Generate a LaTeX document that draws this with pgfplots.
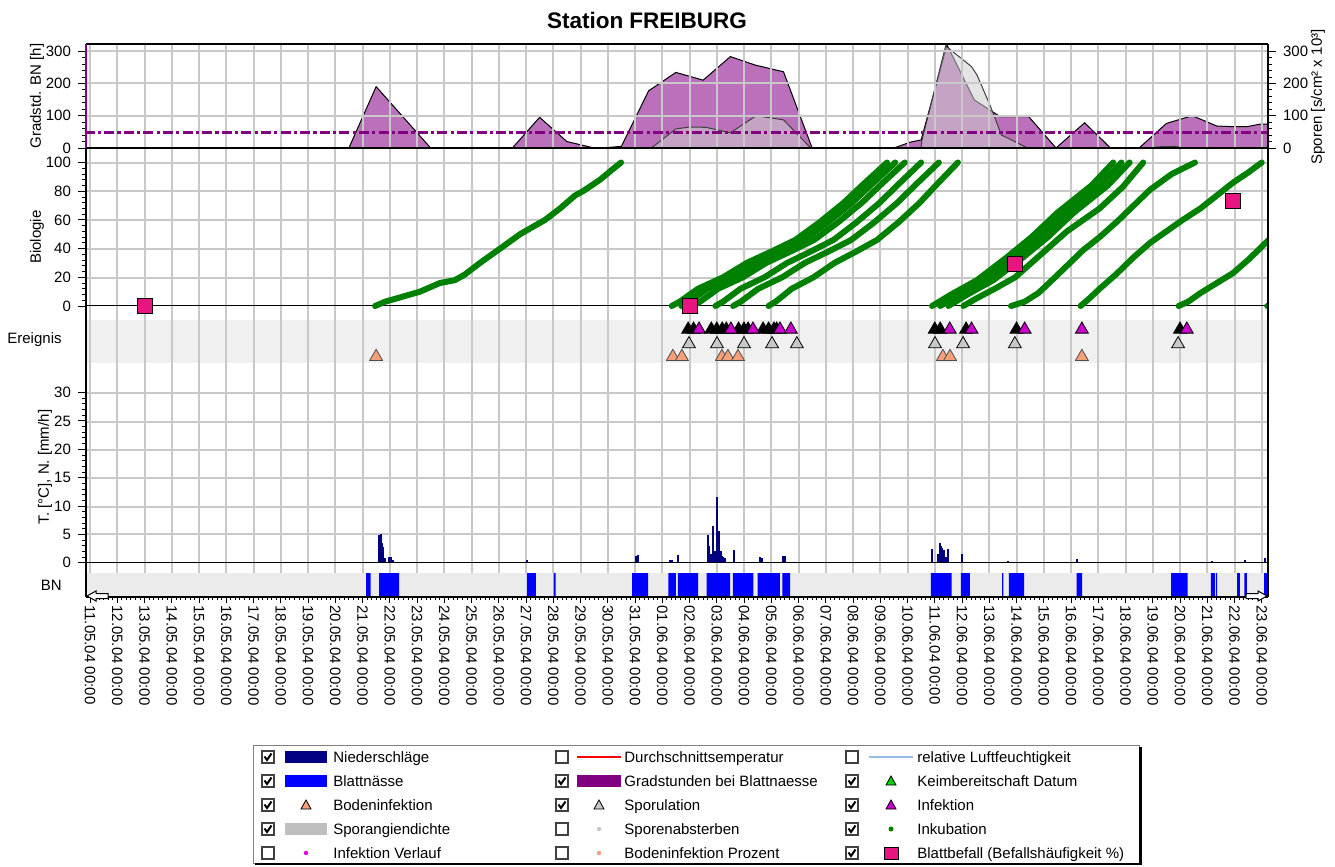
\documentclass[border=0pt]{standalone}
\usepackage{fontspec}
\setmainfont{Liberation Sans}
\usepackage{pgfplots}
\pgfplotsset{compat=1.18}

\definecolor{gridc}{RGB}{200,200,200}
\definecolor{purpfill}{RGB}{186,112,186}
\definecolor{purpline}{RGB}{128,0,128}
\definecolor{sporgrey}{RGB}{205,205,205}
\definecolor{inkgreen}{RGB}{0,128,0}
\definecolor{befall}{RGB}{232,20,128}
\definecolor{infmag}{RGB}{204,0,204}
\definecolor{infdot}{RGB}{230,0,230}
\definecolor{sporul}{RGB}{200,200,200}
\definecolor{boden}{RGB}{245,160,122}
\definecolor{navyN}{RGB}{0,0,128}
\definecolor{bnblue}{RGB}{0,0,255}
\definecolor{bandgrey}{RGB}{235,235,235}
\definecolor{ereiggrey}{RGB}{240,240,240}
\definecolor{lfblue}{RGB}{150,190,230}
\definecolor{keimgreen}{RGB}{0,210,0}
\newcommand\tf{\fontsize{7.5}{9}\selectfont}

\pgfplotsset{
 panel/.style={
  scale only axis, width=591pt,
  xmin=-0.1468, xmax=43.229,
  xtick={0,...,43},
  axis line style={draw=none},
  tick align=outside,
  xtick pos=left, ytick pos=left,
  tick style={black, line width=0.4pt},
  major tick length=4pt, minor tick length=2pt,
  tick label style={font=\tf},
  /pgf/number format/assume math mode=true,
 },
 nox/.style={xticklabels={}, major x tick style={draw=none}, minor x tick num=0},
 gl/.style={inkgreen, no markers, line width=3pt, line join=round, line cap=round},
 ev/.style={only marks, mark=triangle*, mark size=3.7pt, line width=0.4pt},
}

\newcommand\cb[3]{%
 \draw[black!75, line width=0.6pt, fill=white] (#1-6,#2-6) rectangle (#1+6,#2+6);
 \ifnum#3=1 \draw[black, line width=1pt] (#1-3.5,#2-0.5) -- (#1-1,#2+3) -- (#1+3.5,#2-3.5);\fi
}
\newcommand\tri[3]{%
 \draw[fill=#3, draw=black, line width=0.4pt] (#1-5,#2+4) -- (#1+5,#2+4) -- (#1,#2-5) -- cycle;
}
\newcommand\lt[3]{\node[anchor=base west, font=\tf, inner sep=0pt] at (#1,#2+5) {#3};}

\begin{document}
\begin{tikzpicture}
\useasboundingbox (0,0) rectangle (667.5pt,-433.5pt);

% Ereignis background band
\begin{scope}[x=0.5pt, y=-0.5pt]
 \fill[ereiggrey] (86,320) rectangle (1268,363);
\end{scope}

% ---------------- top panel: Gradstunden / Sporangiendichte (areas)
\begin{axis}[panel, nox, at={(43pt,-22pt)}, anchor=north west, height=52pt,
  ymin=0, ymax=322, ytick={0,100,200,300}, minor y tick num=4]
\addplot[fill=purpfill, draw=black, line width=0.5pt] coordinates {
(9.5,0)(10.5,190)(11.5,95)(12.5,0)(15.5,0)(16.5,95)(17.5,20)(18.5,0)(18.75,0)(19.5,5)
(20.5,177)(21.5,234)(22.5,210)(23.5,283)(24.4,257)(25.45,236)(26.5,0)(29.5,0)(30.1,18)
(30.5,25)(31.45,319)(32.45,149)(33.4,97)(34.45,97)(35.45,0)(36.5,78)(37.45,0)(38.5,0)
(39.5,76)(40.45,100)(41.35,68)(41.95,66)(42.45,66)(42.95,74)(43.3,74)} \closedcycle;
\addplot[fill=sporgrey, fill opacity=0.55, draw=black!75, line width=0.5pt] coordinates {
(20.6,0)(21.5,59)(22.0,65)(22.6,64)(23.5,47)(24.45,100)(25.45,87)(26.45,0)(30.5,0)
(30.52,20)(31.4,316)(32.35,252)(32.55,226)(33.05,128)(33.45,40)(34.4,0)(38.8,0)
(39.3,4)(39.8,5)(40.25,0)} \closedcycle;
\end{axis}

% grid lines (pixel-aligned)
\begin{scope}[x=0.5pt, y=-0.5pt]
 \foreach \k in {0,...,43} {
   \pgfmathsetmacro\xx{round(90+27.25*\k)}
   \draw[gridc, line width=1pt] (\xx,44) -- (\xx,597);
 }
 \foreach \yy in {51,83,116, 163,191,220,249,278, 393,422,450,478,507,534} {
   \draw[gridc, line width=1pt] (86,\yy) -- (1268,\yy);
 }
\end{scope}

% top panel overlay: threshold line and right axis
\begin{axis}[scale only axis, width=591pt, height=52pt, at={(43pt,-22pt)}, anchor=north west,
  xmin=-0.1468, xmax=43.229, ymin=0, ymax=322, hide x axis, axis y line*=right,
  axis line style={draw=none}, ytick={0,100,200,300}, minor y tick num=4,
  tick align=outside, tick style={black, line width=0.4pt}, major tick length=4pt,
  minor tick length=2pt, yticklabel style={font=\tf},
  /pgf/number format/assume math mode=true]
\addplot[purpline, line width=1.4pt, dash pattern=on 5pt off 1.6pt on 1.6pt off 1.6pt]
  coordinates {(-0.2,48)(43.3,48)};
\end{axis}

% ---------------- Biologie
\begin{axis}[panel, nox, at={(43pt,-74pt)}, anchor=north west, height=86pt,
  ymin=-9.76, ymax=110.1, ytick={0,20,...,100}, minor y tick num=4]
\addplot[black, line width=0.5pt] coordinates {(-0.2,0)(43.3,0)};
% line 1
\addplot[gl] coordinates {(10.46,0)(10.83,3)(11.38,6)(12.11,10)(12.84,16)(13.39,18)(13.76,22)(14.31,30)(15.05,40)(15.78,50)(16.33,56)(16.7,60)(17.25,68)(17.8,77)(18.09,80)(18.72,88)(19.16,95)(19.49,100)};
% band A
\addplot[gl] coordinates {(21.35,0)(21.64,3)(22.31,12)(23.23,20)(24.1,30)(25.01,38)(25.88,46)(26.75,58)(27.66,72)(28.33,84)(29.25,100)};
\addplot[gl] coordinates {(21.7,0)(21.99,3)(22.66,12)(23.57,20)(24.43,30)(25.33,38)(26.2,46)(27.06,58)(27.97,72)(28.64,84)(29.55,100)};
\addplot[gl] coordinates {(22.1,0)(22.39,3)(23.05,12)(23.96,20)(24.81,30)(25.71,38)(26.57,46)(27.43,58)(28.33,72)(28.99,84)(29.9,100)};
% band B
\addplot[gl] coordinates {(22.95,0)(23.23,3)(23.87,12)(24.75,20)(25.58,30)(26.45,38)(27.28,46)(28.11,58)(28.98,72)(29.62,84)(30.5,100)};
\addplot[gl] coordinates {(23.6,0)(23.88,3)(24.52,12)(25.4,20)(26.23,30)(27.1,38)(27.93,46)(28.76,58)(29.63,72)(30.27,84)(31.15,100)};
% line C
\addplot[gl] coordinates {(24.9,0)(25.16,3)(25.75,12)(26.55,20)(27.32,30)(28.12,38)(28.88,46)(29.65,58)(30.45,72)(31.04,84)(31.85,100)};
% band D
\addplot[gl] coordinates {(30.9,0)(31.6,8)(32.55,18)(33.65,34)(34.55,48)(35.5,65)(36.75,84)(37.55,100)};
\addplot[gl] coordinates {(31.2,0)(31.9,8)(32.85,18)(33.95,34)(34.85,48)(35.8,65)(37.05,84)(37.85,100)};
\addplot[gl] coordinates {(31.5,0)(32.2,8)(33.15,18)(34.25,34)(35.15,48)(36.1,65)(37.35,84)(38.15,100)};
% E F G H
\addplot[gl] coordinates {(32.05,0)(32.5,5)(33.2,12)(33.95,20)(34.9,36)(35.85,52)(37.05,68)(37.9,83)(38.65,100)};
\addplot[gl] coordinates {(33.8,0)(34.3,3)(34.8,9)(35.25,17)(35.85,28)(36.45,39)(37.05,48)(37.7,59)(38.3,70)(38.9,81)(39.7,92)(40.55,100)};
\addplot[gl] coordinates {(36.35,0)(36.6,4)(37.05,12)(37.65,22)(38.3,34)(38.9,44)(39.5,52)(40.1,60)(40.75,68)(41.35,77)(41.95,86)(42.5,93)(43.0,100)};
\addplot[gl] coordinates {(39.95,0)(40.3,3)(40.75,9)(41.35,16)(41.95,23)(42.55,33)(43.25,46)};
\addplot[gl] coordinates {(43.2,0)(43.3,0.5)};
\addplot[only marks, mark=square*, mark size=3.75pt, line width=0.5pt, mark options={fill=befall, draw=black}]
  coordinates {(2.02,0)(22.0,0)(33.94,29)(41.94,73)};
\end{axis}

% ---------------- Ereignis
\begin{axis}[panel, nox, at={(43pt,-160pt)}, anchor=north west, height=21.5pt,
  ymin=0, ymax=43, ytick=\empty]
\addplot[ev, mark options={fill=black, draw=black}] coordinates {(21.95,33.6)(22.15,33.6)(22.8,33.6)(23.0,33.6)(23.2,33.6)(23.35,33.6)(23.8,33.6)(24.0,33.6)(24.15,33.6)(24.7,33.6)(24.9,33.6)(25.1,33.6)(25.2,33.6)(31.0,33.6)(31.2,33.6)(32.15,33.6)(34.0,33.6)(40.0,33.6)};
\addplot[ev, mark options={fill=infmag, draw=black}] coordinates {(22.35,33.6)(23.52,33.6)(24.33,33.6)(25.32,33.6)(25.72,33.6)(31.55,33.6)(32.35,33.6)(34.3,33.6)(36.4,33.6)(40.25,33.6)(43.23,33.6)};
\addplot[ev, mark options={fill=sporul, draw=black}] coordinates {(21.98,19)(23.01,19)(24.0,19)(25.03,19)(25.94,19)(31.01,19)(32.04,19)(33.94,19)(39.93,19)};
\addplot[ev, mark options={fill=boden, draw=black!70}] coordinates {(10.5,6.3)(21.39,6.3)(21.72,6.3)(23.19,6.3)(23.41,6.3)(23.78,6.3)(31.3,6.3)(31.56,6.3)(36.4,6.3)};
\end{axis}

% ---------------- T / N
\begin{axis}[panel, nox, at={(43pt,-181.5pt)}, anchor=north west, height=102pt,
  ymin=-0.76, ymax=35.2, ytick={0,5,...,30}, minor y tick num=4]
\addplot[ycomb, navyN, line width=1.1pt] coordinates {
(10.61,4.8)(10.68,5.0)(10.72,3.5)(10.75,2.8)(10.83,0.8)(10.97,1.0)(11.05,1.0)(11.12,0.5)
(16.04,0.4)(20.04,1.2)(20.11,1.3)(21.28,0.5)(21.36,0.4)(21.57,1.3)(22.67,4.8)(22.72,3.0)
(22.79,1.5)(22.86,6.5)(22.9,1.8)(22.94,2.0)(22.98,1.6)(23.02,11.5)(23.08,5.6)(23.14,2.0)
(23.19,1.2)(23.23,1.0)(23.3,0.8)(23.64,2.2)(24.59,1.0)(24.64,0.8)(25.43,1.2)(25.5,1.2)
(30.89,2.5)(31.12,1.5)(31.19,3.5)(31.23,3.0)(31.27,2.6)(31.34,2.2)(31.41,1.0)(31.5,2.5)
(31.99,1.5)(33.69,0.3)(36.21,0.6)(39.88,0.2)(41.16,0.3)(42.39,0.5)(43.12,0.8)};
\addplot[black, line width=0.75pt] coordinates {(-0.2,0)(43.3,0)};
\end{axis}

% ---------------- BN
\begin{axis}[panel, at={(43pt,-283.5pt)}, anchor=north west, height=15pt,
  ymin=0, ymax=1, ytick=\empty, minor x tick num=5,
  major tick length=3pt, minor tick length=1.5pt,
  x tick label style={rotate=-90, anchor=west, inner sep=1pt},
  xticklabels={11.05.04 00:00,12.05.04 00:00,13.05.04 00:00,14.05.04 00:00,15.05.04 00:00,
  16.05.04 00:00,17.05.04 00:00,18.05.04 00:00,19.05.04 00:00,20.05.04 00:00,21.05.04 00:00,
  22.05.04 00:00,23.05.04 00:00,24.05.04 00:00,25.05.04 00:00,26.05.04 00:00,27.05.04 00:00,
  28.05.04 00:00,29.05.04 00:00,30.05.04 00:00,31.05.04 00:00,01.06.04 00:00,02.06.04 00:00,
  03.06.04 00:00,04.06.04 00:00,05.06.04 00:00,06.06.04 00:00,07.06.04 00:00,08.06.04 00:00,
  09.06.04 00:00,10.06.04 00:00,11.06.04 00:00,12.06.04 00:00,13.06.04 00:00,14.06.04 00:00,
  15.06.04 00:00,16.06.04 00:00,17.06.04 00:00,18.06.04 00:00,19.06.04 00:00,20.06.04 00:00,
  21.06.04 00:00,22.06.04 00:00,23.06.04 00:00}]
\addplot[fill=bandgrey, draw=none] coordinates {(-0.2,0.8)(43.3,0.8)} \closedcycle;
\addplot[const plot, fill=bnblue, draw=none] coordinates {
(10.13,0.8)(10.30,0)(10.61,0.8)(11.34,0)(16.03,0.8)(16.36,0)(17.01,0.8)(17.09,0)
(19.89,0.8)(20.48,0)(21.22,0.8)(21.50,0)(21.57,0.8)(22.32,0)(22.63,0.8)(23.49,0)
(23.59,0.8)(24.34,0)(24.50,0.8)(25.32,0)(25.41,0.8)(25.69,0)(30.86,0.8)(31.62,0)
(31.96,0.8)(32.29,0)(33.47,0.8)(33.52,0)(33.72,0.8)(34.28,0)(36.21,0.8)(36.41,0)
(39.67,0.8)(40.28,0)(41.13,0.8)(41.28,0)(41.32,0.8)(41.36,0)(42.10,0.8)(42.20,0)
(42.36,0.8)(42.45,0)(43.09,0.8)(43.3,0)} \closedcycle;
\end{axis}

% ---------------- frame, labels, legend (pixel coordinates)
\begin{scope}[x=0.5pt, y=-0.5pt]
 \draw[purpline, line width=1pt] (86,44) -- (86,148);
 \draw[black, line width=1pt] (86,148) -- (86,597);
 \draw[black, line width=0.6pt] (86,44) -- (1268,44);
 \draw[black, line width=0.9pt] (1268,44) -- (1268,597);
 \draw[black, line width=0.8pt] (86,148) -- (1268,148);
 \draw[black, line width=0.8pt] (86,597) -- (1268,597);
 % scroll arrows
 \draw[fill=white, line width=0.5pt] (87,596) -- (96,591) -- (96,593.5) -- (108,593.5) -- (108,598.5) -- (96,598.5) -- (96,601) -- cycle;
 \draw[fill=white, line width=0.5pt] (1267,596) -- (1258,591) -- (1258,593.5) -- (1246,593.5) -- (1246,598.5) -- (1258,598.5) -- (1258,601) -- cycle;
 % titles
 \node[font=\fontsize{11.25}{13}\selectfont\bfseries] at (647,20) {Station FREIBURG};
 \node[rotate=90, font=\tf] at (37,96) {Gradstd. BN [h]};
 \node[rotate=90, font=\tf] at (37,237) {Biologie};
 \node[anchor=east, font=\tf, inner sep=0pt] at (62,340) {Ereignis};
 \node[rotate=90, font=\tf] at (45,467) {T. [°C], N. [mm/h]};
 \node[anchor=east, font=\tf, inner sep=0pt] at (62,585) {BN};
 \node[rotate=90, font=\tf] at (1318,97) {Sporen [s/cm² x 10³]};
 % legend box
 \draw[gray, line width=0.5pt, fill=white] (253,745) rectangle (1139,863);
 \draw[black, line width=1.5pt] (1140.5,747) -- (1140.5,865);
 \draw[black, line width=1pt] (255,864) -- (1141,864);
 % column 1
 \cb{268}{757}{1} \fill[navyN] (285,751) rectangle (327,763);
 \lt{333}{757}{Niederschläge}
 \cb{268}{781}{1} \fill[bnblue] (285,775) rectangle (327,787);
 \lt{333}{781}{Blattnässe}
 \cb{268}{805}{1} \tri{306}{805}{boden}
 \lt{333}{805}{Bodeninfektion}
 \cb{268}{829}{1} \fill[gray!50] (285,823) rectangle (327,835);
 \lt{333}{829}{Sporangiendichte}
 \cb{268}{853}{0} \fill[infdot] (306,853) circle (2.2);
 \lt{333}{853}{Infektion Verlauf}
 % column 2
 \cb{562}{757}{0} \draw[red, line width=1pt] (577,757) -- (621,757);
 \lt{624}{757}{Durchschnittsemperatur}
 \cb{562}{781}{1} \fill[purpline] (577,775) rectangle (621,787);
 \lt{624}{781}{Gradstunden bei Blattnaesse}
 \cb{562}{805}{1} \tri{599}{805}{sporul}
 \lt{624}{805}{Sporulation}
 \cb{562}{829}{0} \fill[gray!45] (599,829) circle (2.2);
 \lt{624}{829}{Sporenabsterben}
 \cb{562}{853}{0} \fill[boden] (599,853) circle (2.2);
 \lt{624}{853}{Bodeninfektion Prozent}
 % column 3
 \cb{852}{757}{0} \draw[lfblue, line width=1pt] (869,757) -- (913,757);
 \lt{917}{757}{relative Luftfeuchtigkeit}
 \cb{852}{781}{1} \tri{891}{781}{keimgreen}
 \lt{917}{781}{Keimbereitschaft Datum}
 \cb{852}{805}{1} \tri{891}{805}{infmag}
 \lt{917}{805}{Infektion}
 \cb{852}{829}{1} \fill[inkgreen] (891,829) circle (2.5);
 \lt{917}{829}{Inkubation}
 \cb{852}{853}{1} \draw[fill=befall, line width=0.5pt] (884,847) rectangle (898,859);
 \lt{917}{853}{Blattbefall (Befallshäufigkeit \%)}
\end{scope}
\end{tikzpicture}
\end{document}
